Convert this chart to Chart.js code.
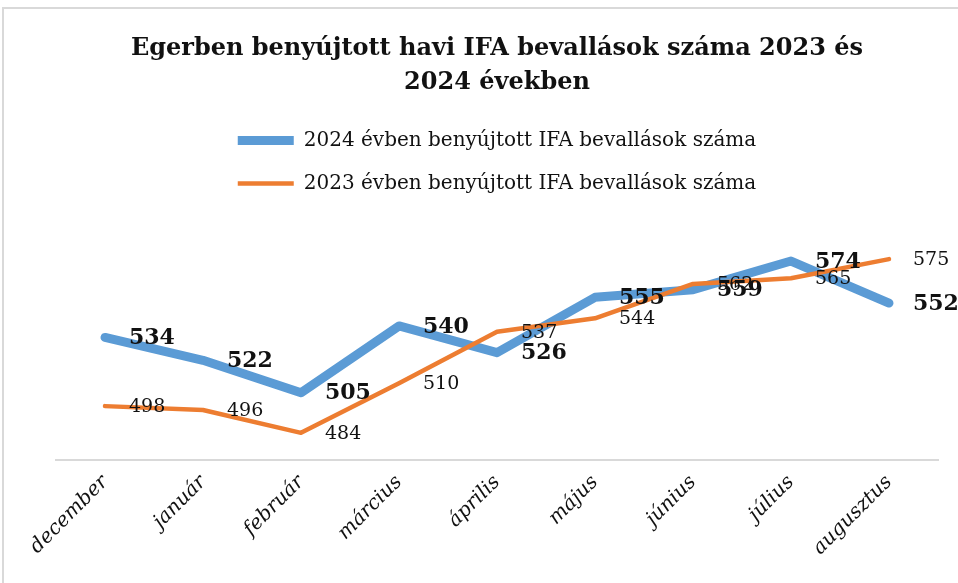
<!DOCTYPE html>
<html>
<head>
<meta charset="utf-8">
<script src="https://cdn.jsdelivr.net/npm/chart.js@4"></script>
<style>
  body { margin: 0; background: #fff; overflow: hidden; }
  #frame { position: absolute; left: 2px; top: 7px; width: 1000px; height: 700px; border: 2px solid #d9d9d9; }
  #wrap { position: absolute; left: 0; top: 0; width: 958px; height: 583px; }
</style>
</head>
<body>
<div id="frame"></div>
<div id="wrap"><canvas id="myChart" width="958" height="583"></canvas></div>
<script>
const months = ['december', 'január', 'február', 'március', 'április', 'május', 'június', 'július', 'augusztus'];
const values2024 = [534, 522, 505, 540, 526, 555, 559, 574, 552];
const values2023 = [498, 496, 484, 510, 537, 544, 562, 565, 575];
const seriesNames = ['2024 évben benyújtott IFA bevallások száma', '2023 évben benyújtott IFA bevallások száma'];

// value labels, to the right of each point
const pointLabels = {
    id: 'pointLabels',
    afterDatasetsDraw(chart) {
        const ctx = chart.ctx;
        ctx.save();
        ctx.textBaseline = 'middle';
        ctx.textAlign = 'left';
        // orange first, blue on top
        [1, 0].forEach(function (di) {
            const meta = chart.getDatasetMeta(di);
            const ds = chart.data.datasets[di];
            ctx.font = di === 0 ? 'bold 22px "DejaVu Serif"' : '19px "DejaVu Serif"';
            ctx.fillStyle = '#111';
            meta.data.forEach(function (pt, i) {
                ctx.fillText(String(ds.data[i]), pt.x + 24, pt.y + 1);
            });
        });
        ctx.restore();
    }
};

// extra room under the legend
const legendGap = {
    id: 'legendGap',
    beforeInit(chart) {
        const fit = chart.legend.fit;
        chart.legend.fit = function () {
            fit.bind(chart.legend)();
            this.height += 46;
        };
    }
};

const ctx = document.getElementById('myChart').getContext('2d');
const myChart = new Chart(ctx, {
    type: 'line',
    data: {
        labels: months,
        datasets: [
            {
                label: seriesNames[0],
                data: values2024,
                borderColor: '#5B9BD5',
                backgroundColor: '#5B9BD5',
                borderWidth: 9,
                borderCapStyle: 'round',
                borderJoinStyle: 'round',
                pointRadius: 0,
                tension: 0,
                order: 1
            },
            {
                label: seriesNames[1],
                data: values2023,
                borderColor: '#ED7D31',
                backgroundColor: '#ED7D31',
                borderWidth: 4.5,
                borderCapStyle: 'round',
                borderJoinStyle: 'round',
                pointRadius: 0,
                tension: 0,
                order: 0
            }
        ]
    },
    options: {
        responsive: false,
        animation: false,
        layout: { padding: { top: 31, left: 56, right: 20, bottom: 20 } },
        plugins: {
            title: {
                display: true,
                text: ['Egerben benyújtott havi IFA bevallások száma 2023 és', '2024 években'],
                color: '#111',
                font: { family: '"DejaVu Serif"', size: 24, weight: 'bold', lineHeight: 1.45 },
                padding: { top: 0, bottom: 7 }
            },
            legend: {
                position: 'top',
                labels: {
                    usePointStyle: true,
                    pointStyle: 'line',
                    pointStyleWidth: 56,
                    boxHeight: 18,
                    padding: 23,
                    color: '#111',
                    font: { family: '"DejaVu Serif"', size: 20 },
                    sort: (a, b) => a.datasetIndex - b.datasetIndex
                }
            },
            tooltip: { enabled: false }
        },
        scales: {
            x: {
                offset: true,
                grid: { display: false },
                border: { display: true, color: '#d9d9d9', width: 2 },
                ticks: {
                    minRotation: 45,
                    maxRotation: 45,
                    color: '#111',
                    font: { family: '"DejaVu Serif"', size: 20, style: 'italic' }
                }
            },
            y: {
                display: false,
                min: 470,
                max: 580
            }
        }
    },
    plugins: [pointLabels, legendGap]
});
</script>
</body>
</html>
